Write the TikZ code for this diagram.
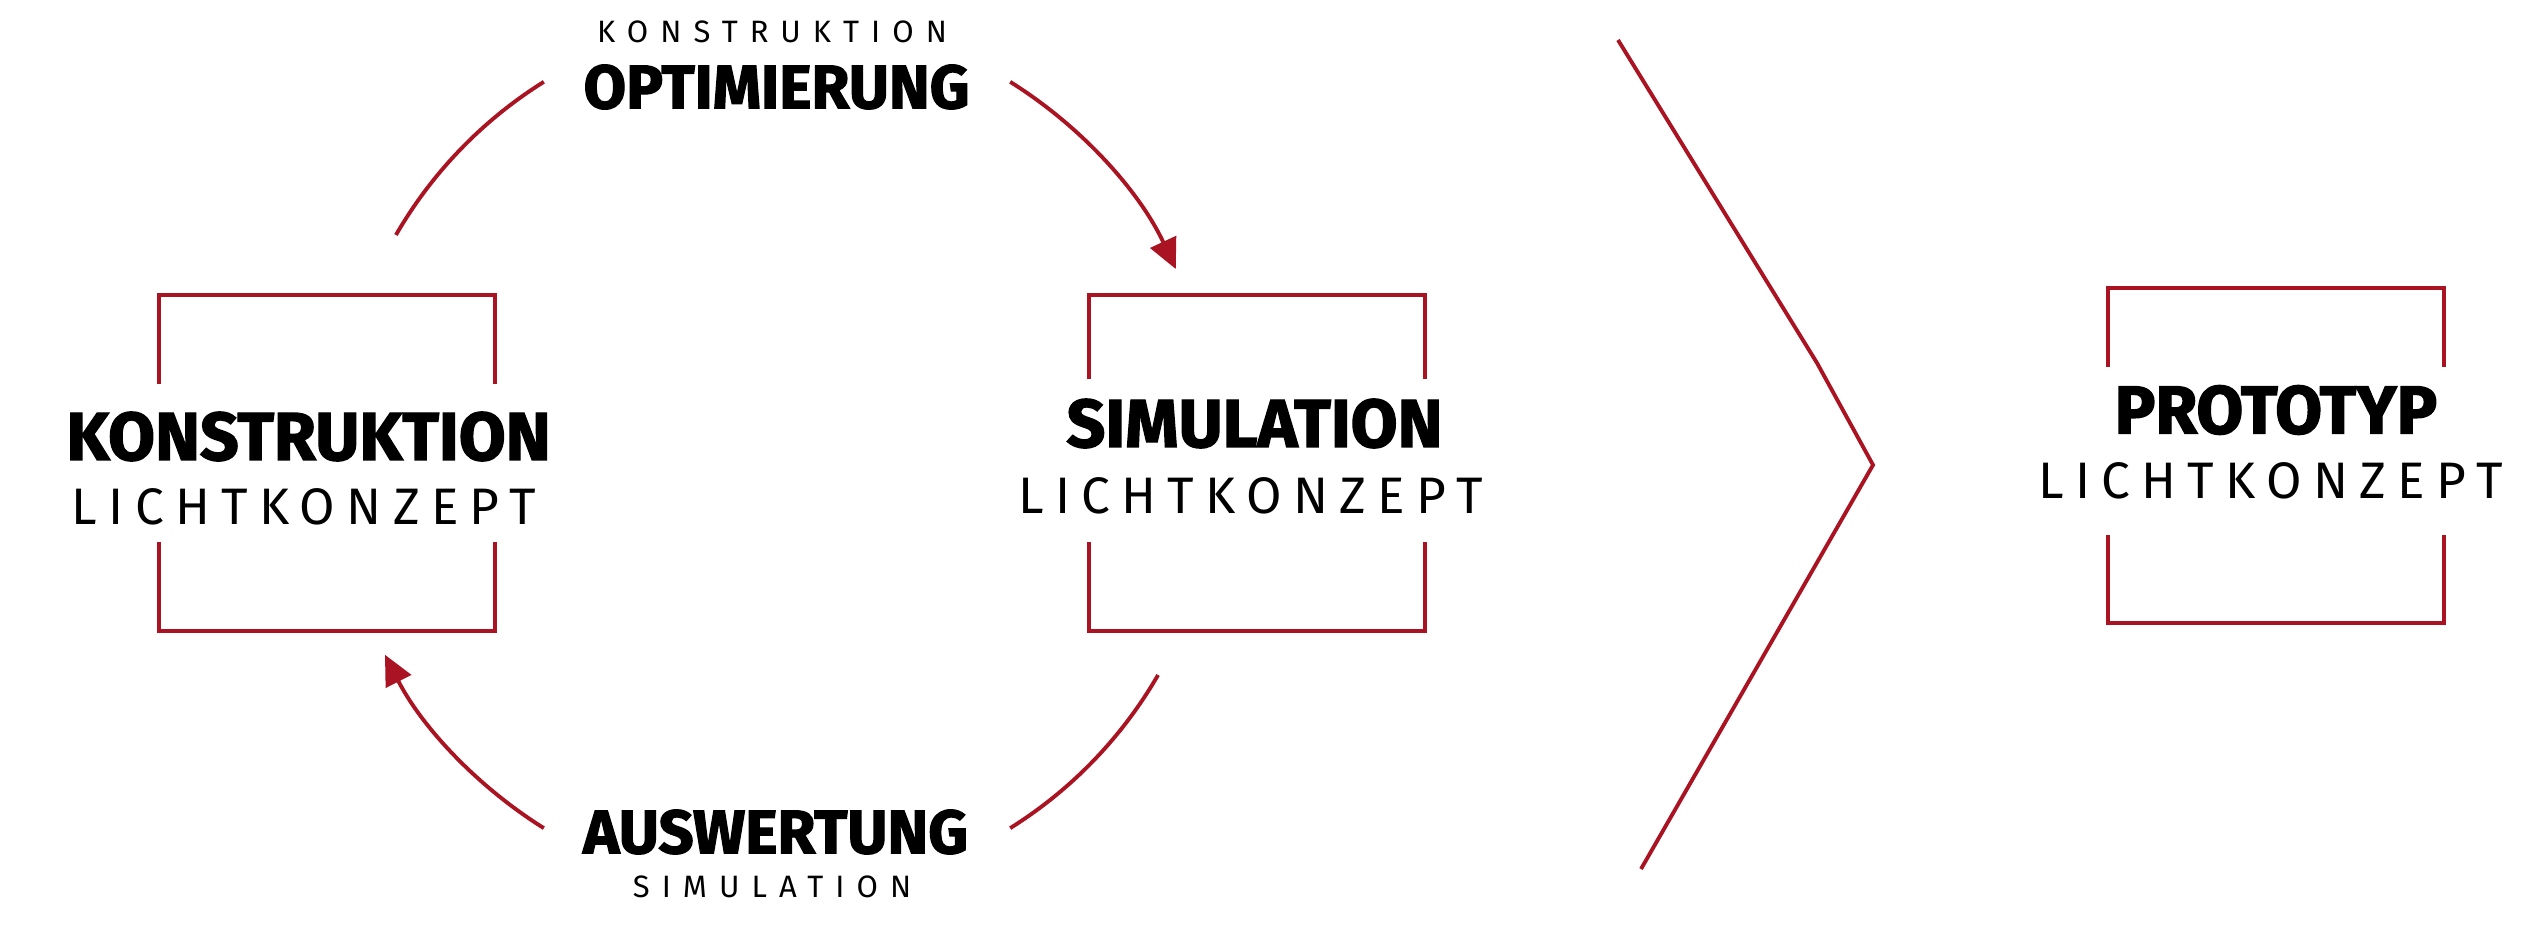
\documentclass[tikz,border=0pt]{standalone}
\usepackage{fontspec}
\setmainfont{Fira Sans}
\newfontfamily\headfont{Fira Sans}[BoldFeatures={FakeBold=2}]
\newfontfamily\subfont{Fira Sans}[LetterSpace=22]
\newfontfamily\kleinfont{Fira Sans}[LetterSpace=39]
\usetikzlibrary{arrows.meta}
\definecolor{lichtrot}{RGB}{170,20,34}

\tikzset{
  rahmen/.style={draw=none, minimum width=3.34cm, minimum height=3.34cm, inner sep=0pt},
  titel/.style={font=\headfont\bfseries\fontsize{19.3}{19.3}\selectfont, inner sep=0pt},
  zyklustitel/.style={font=\headfont\bfseries\fontsize{17.5}{17.5}\selectfont, inner sep=0pt},
  untertitel/.style={font=\subfont\fontsize{14.6}{14.6}\selectfont, inner sep=0pt},
  klein/.style={font=\kleinfont\fontsize{8.8}{8.8}\selectfont, inner sep=0pt},
  linie/.style={draw=lichtrot, line width=1.1pt},
  pfeil/.style={linie, -{Triangle[length=0.3cm, width=0.28cm]}}
}

\begin{document}
\begin{tikzpicture}
\useasboundingbox (0,0) rectangle (25.47,-9.28);

% Rahmen der drei Stationen
\node[rahmen] (konstr) at (3.27,-4.63) {};
\draw[linie] ([yshift=-0.89cm]konstr.north west) |- (konstr.north east) -- ++(0,-0.89);
\draw[linie] ([yshift=0.89cm]konstr.south west) |- (konstr.south east) -- ++(0,0.89);
\node[rahmen] (simul) at (12.57,-4.63) {};
\draw[linie] ([yshift=-0.84cm]simul.north west) |- (simul.north east) -- ++(0,-0.84);
\draw[linie] ([yshift=0.89cm]simul.south west) |- (simul.south east) -- ++(0,0.89);
\node[rahmen] (proto) at (22.76,-4.555) {};
\draw[linie] ([yshift=-0.79cm]proto.north west) |- (proto.north east) -- ++(0,-0.79);
\draw[linie] ([yshift=0.88cm]proto.south west) |- (proto.south east) -- ++(0,0.88);

% Texte in den Rahmen
\node[titel] (konstr-titel) at (3.085,-4.365) {KONSTRUKTION};
\node[untertitel] (konstr-sub) at (3.04,-5.07) {LICHTKONZEPT};
\node[titel] (simul-titel) at (12.545,-4.235) {SIMULATION};
\node[untertitel] (simul-sub) at (12.505,-4.955) {LICHTKONZEPT};
\node[titel] (proto-titel) at (22.76,-4.10) {PROTOTYP};
\node[untertitel] (proto-sub) at (22.705,-4.81) {LICHTKONZEPT};

% Zyklus
\coordinate (zyklus) at (7.77,-4.55);
\node[klein] (opt-klein) at (7.72,-0.315) {KONSTRUKTION};
\node[zyklustitel] (opt) at (7.765,-0.87) {OPTIMIERUNG};
\node[zyklustitel] (ausw) at (7.755,-8.32) {AUSWERTUNG};
\node[klein] (ausw-klein) at (7.72,-8.87) {SIMULATION};
\draw[linie] (zyklus) ++(150:4.4) arc[start angle=150, end angle=122, radius=4.4];
\draw[pfeil] (zyklus) ++(58:4.4) arc[start angle=58, end angle=25, radius=4.4];
\draw[linie] (zyklus) ++(-30:4.4) arc[start angle=-30, end angle=-58, radius=4.4];
\draw[pfeil] (zyklus) ++(-122:4.4) arc[start angle=-122, end angle=-153, radius=4.4];

% Pfeilspitze zum Prototyp
\draw[linie] (16.18,-0.40) -- (18.17,-3.63) -- (18.73,-4.65) -- (16.41,-8.69);
\end{tikzpicture}
\end{document}
